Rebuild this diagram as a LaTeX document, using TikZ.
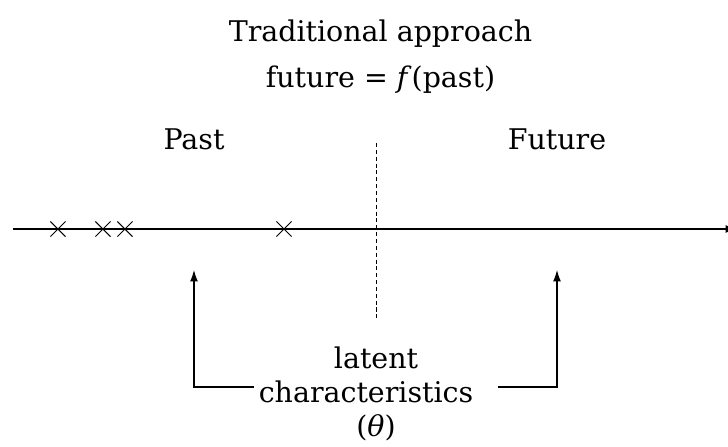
\documentclass[tikz,border=0pt]{standalone}
\usepackage{fontspec}
\setmainfont{DejaVu Serif}
\usepackage{tikz}
\usetikzlibrary{arrows.meta,shapes.misc}

\begin{document}
\begin{tikzpicture}[scale = 1,
  every node/.style={font=\fontsize{16.2}{19.4}\selectfont},
  obsmark/.style={draw, cross out, minimum size=0.28cm, inner sep=0pt, line width=0.6pt},
  pointer/.style={line width=0.6pt, -{Latex[length=6.5pt,width=4.5pt]}}]
\def\yLab{1.6}
\def\xPast{-3.64}
\def\xFut{3.62}
\def\yFoot{-3.16}
\useasboundingbox (-7.52,-4.34) rectangle (7.04,4.58);

% Title
\node[anchor=base] (title) at (0.09,3.74) {Traditional approach};
\node[anchor=base] (rule) at (0.09,2.82) {future = \textit{f}(past)};

% Past / future
\node[anchor=base] (past) at (\xPast,\yLab) {Past};
\node[anchor=base] (fut) at (\xFut,\yLab) {Future};

% Time axis and the present
\coordinate (start) at (-7.26,0);
\coordinate (end) at (7.22,0);
\draw[line width=0.8pt, -{Latex[length=6.5pt,width=4.5pt]}] (start) -- (end);
\draw[line width=0.5pt, dash pattern=on 2.3pt off 1.6pt] (0,1.72) -- (0,-1.82);

% Observations
\foreach \x [count=\i] in {-6.36,-5.46,-5.02,-1.84}
  \node[obsmark] (obs\i) at (\x,0) {};

% Latent characteristics
\node[align=center, inner sep=2.5pt] (lat) at (0,-3.3)
  {latent\\characteristics\kern0.4cm\\(\textit{θ})};
\coordinate (pastTip) at (\xPast,-0.82);
\coordinate (futTip) at (\xFut,-0.82);
\coordinate (pastFoot) at (\xPast,\yFoot);
\coordinate (futFoot) at (\xFut,\yFoot);
\draw[pointer] (lat.west |- pastFoot) -- (pastFoot) -- (pastTip);
\draw[pointer] (lat.east |- futFoot) -- (futFoot) -- (futTip);

\end{tikzpicture}
\end{document}
